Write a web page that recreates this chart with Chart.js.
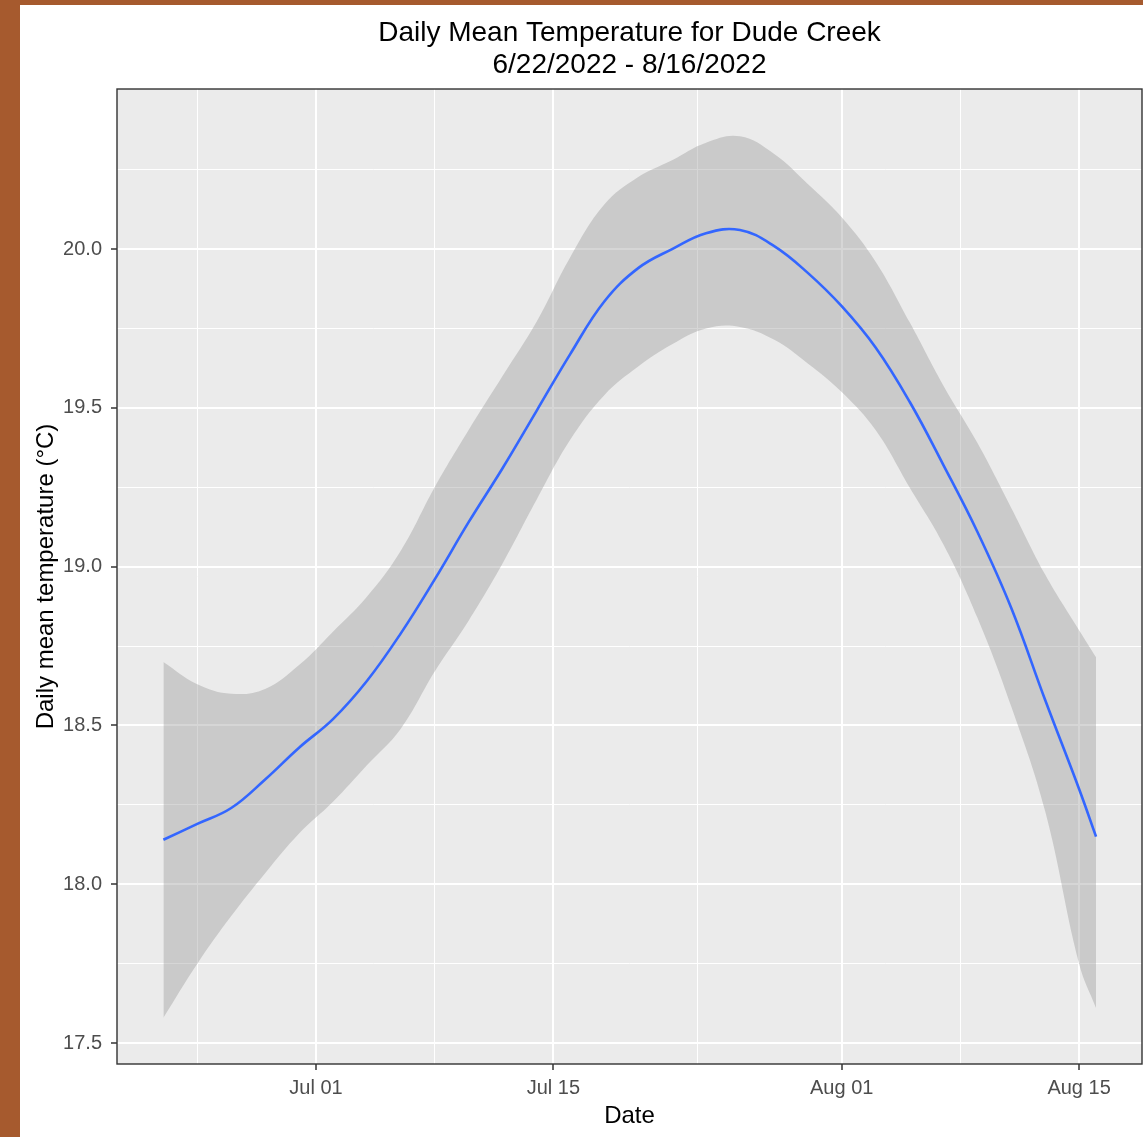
<!DOCTYPE html>
<html>
<head>
<meta charset="utf-8">
<script src="https://cdn.jsdelivr.net/npm/chart.js@4"></script>
<style>
  html, body { margin: 0; padding: 0; }
  body { background: #a65a2e; width: 1143px; height: 1137px; overflow: hidden; }
  #wrap { position: absolute; left: 20px; top: 5px; width: 1123px; height: 1132px; background: #fff; }
</style>
</head>
<body>
<div id="wrap"><canvas id="chart"></canvas></div>
<script>
// days counted from Jul 01 (0 = Jul 01)
const days = [-9, -7, -5, -3, -1, 1, 3, 5, 7, 9, 11, 13, 15, 17, 19, 21, 23, 25, 27, 29, 31, 33, 35, 37, 39, 41, 43, 45, 46];
const meanTemp = [18.14, 18.19, 18.24, 18.33, 18.43, 18.52, 18.64, 18.79, 18.96, 19.14, 19.31, 19.49, 19.67, 19.835, 19.94, 20.0, 20.05, 20.06, 20.01, 19.925, 19.82, 19.69, 19.52, 19.32, 19.11, 18.87, 18.58, 18.30, 18.15];
const upperBand = [18.70, 18.63, 18.60, 18.615, 18.69, 18.795, 18.905, 19.05, 19.25, 19.43, 19.60, 19.77, 19.975, 20.14, 20.227, 20.28, 20.335, 20.355, 20.30, 20.205, 20.10, 19.96, 19.77, 19.57, 19.39, 19.185, 18.975, 18.80, 18.715];
const lowerBand = [17.58, 17.75, 17.90, 18.035, 18.16, 18.26, 18.375, 18.49, 18.67, 18.83, 19.01, 19.21, 19.40, 19.54, 19.63, 19.70, 19.75, 19.755, 19.715, 19.64, 19.55, 19.43, 19.25, 19.07, 18.84, 18.56, 18.23, 17.75, 17.61];

const xTickDays = [0, 14, 31, 45];
const xTickLabels = ["Jul 01", "Jul 15", "Aug 01", "Aug 15"];
const xMinorDays = [-7, 7, 22.5, 38];
const yMajorTicks = [17.5, 18.0, 18.5, 19.0, 19.5, 20.0];
const yMinorTicks = [17.75, 18.25, 18.75, 19.25, 19.75, 20.25];

const FONT = "'Liberation Sans', Arial, sans-serif";
const pts = arr => days.map((d, i) => ({x: d, y: arr[i]}));
const isMajorX = v => xTickDays.includes(v);
const isMajorY = v => yMajorTicks.some(t => Math.abs(t - v) < 1e-6);

const panel = {
  id: "panel",
  beforeDraw(chart) {
    const {ctx, chartArea: a} = chart;
    ctx.save();
    ctx.fillStyle = "#ebebeb";
    ctx.fillRect(a.left, a.top, a.right - a.left, a.bottom - a.top);
    ctx.restore();
  },
  afterDraw(chart) {
    const {ctx, chartArea: a} = chart;
    ctx.save();
    ctx.strokeStyle = "#333333";
    ctx.lineWidth = 1.4;
    ctx.strokeRect(a.left, a.top, a.right - a.left, a.bottom - a.top);
    ctx.restore();
  }
};

const config = {
  type: "line",
  data: {
    datasets: [
      {
        label: "mean",
        data: pts(meanTemp),
        borderColor: "#3366ff",
        borderWidth: 2.6,
        pointRadius: 0,
        tension: 0.4,
        fill: false
      },
      {
        label: "upper",
        data: pts(upperBand),
        borderWidth: 0,
        borderColor: "rgba(0,0,0,0)",
        backgroundColor: "rgba(153,153,153,0.4)",
        pointRadius: 0,
        tension: 0.4,
        fill: "+1"
      },
      {
        label: "lower",
        data: pts(lowerBand),
        borderWidth: 0,
        borderColor: "rgba(0,0,0,0)",
        pointRadius: 0,
        tension: 0.4,
        fill: false
      }
    ]
  },
  options: {
    responsive: true,
    maintainAspectRatio: false,
    animation: false,
    layout: { padding: { left: 0, right: 1, top: 0, bottom: 0 } },
    plugins: {
      legend: { display: false },
      tooltip: { enabled: false },
      title: {
        display: true,
        fullSize: false,
        text: ["Daily Mean Temperature for Dude Creek", "6/22/2022 - 8/16/2022"],
        color: "#000000",
        font: { family: FONT, size: 28, weight: "normal", lineHeight: 1.143 },
        padding: { top: 12, bottom: 8 }
      }
    },
    scales: {
      x: {
        type: "linear",
        min: -11.736,
        max: 48.71,
        afterFit(scale) { scale.height = 73; },
        afterBuildTicks(scale) {
          scale.ticks = xTickDays.concat(xMinorDays).sort((a, b) => a - b).map(v => ({value: v}));
        },
        ticks: {
          autoSkip: false,
          maxRotation: 0,
          padding: 6,
          color: "#4d4d4d",
          font: { family: FONT, size: 20 },
          callback(v) {
            const i = xTickDays.indexOf(v);
            return i >= 0 ? xTickLabels[i] : "";
          }
        },
        grid: {
          color: "#ffffff",
          lineWidth: c => (c.tick && isMajorX(c.tick.value)) ? 2 : 1,
          tickLength: 6,
          tickColor: c => (c.tick && isMajorX(c.tick.value)) ? "#333333" : "rgba(0,0,0,0)",
          tickWidth: 1.5
        },
        border: { display: false },
        title: {
          display: true,
          text: "Date",
          color: "#000000",
          font: { family: FONT, size: 24 },
          padding: { top: 0, bottom: 6 }
        }
      },
      y: {
        min: 17.434,
        max: 20.504,
        afterFit(scale) { scale.width = 97; },
        afterBuildTicks(scale) {
          scale.ticks = yMajorTicks.concat(yMinorTicks).sort((a, b) => a - b).map(v => ({value: v}));
        },
        ticks: {
          autoSkip: false,
          padding: 9,
          color: "#4d4d4d",
          font: { family: FONT, size: 20 },
          callback(v) {
            return isMajorY(v) ? v.toFixed(1) : "";
          }
        },
        grid: {
          color: "#ffffff",
          lineWidth: c => (c.tick && isMajorY(c.tick.value)) ? 2 : 1,
          tickLength: 6,
          tickColor: c => (c.tick && isMajorY(c.tick.value)) ? "#333333" : "rgba(0,0,0,0)",
          tickWidth: 1.5
        },
        border: { display: false },
        title: {
          display: true,
          text: "Daily mean temperature (°C)",
          color: "#000000",
          font: { family: FONT, size: 24 },
          padding: { top: 12, bottom: 0 }
        }
      }
    }
  },
  plugins: [panel]
};

const myChart = new Chart(document.getElementById("chart"), config);
</script>
</body>
</html>
